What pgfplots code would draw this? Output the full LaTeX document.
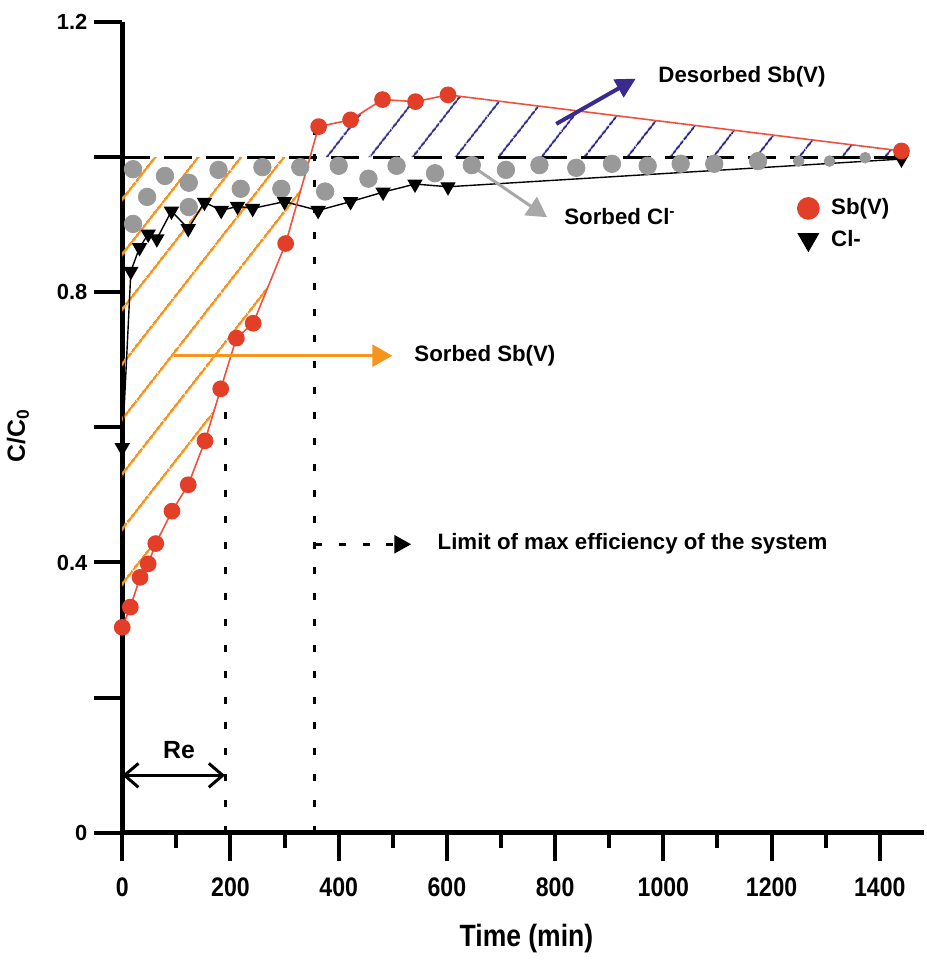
\documentclass[border=0pt]{standalone}
\usepackage{fontspec}
\setmainfont{Liberation Sans}
\newfontfamily\narrowsans[FakeStretch=0.86]{Liberation Sans}
\usepackage{pgfplots}
\usepackage{pgfplotstable}
\pgfplotsset{compat=1.18}
\usepgfplotslibrary{fillbetween}
\usetikzlibrary{patterns.meta,arrows.meta}

\definecolor{sbred}{HTML}{E23E28}
\definecolor{sbline}{HTML}{F0503C}
\definecolor{hatchorange}{HTML}{F7941E}
\definecolor{hatchblue}{HTML}{2E288C}
\definecolor{despurple}{HTML}{3B2A8E}
\definecolor{dotgray}{HTML}{999999}
\definecolor{arrowgray}{HTML}{A8A8A8}

% Sb(V) breakthrough
\pgfplotstableread{
x y
0 0.304
15 0.334
33 0.378
48 0.398
62 0.428
92 0.476
122 0.515
153 0.580
182 0.657
211 0.732
242 0.754
302 0.872
363 1.045
422 1.055
481 1.085
542 1.082
602 1.092
1440 1.009
}\sbdata

% Cl- breakthrough
\pgfplotstableread{
x y
0 0.570
16 0.831
32 0.866
48 0.886
64 0.879
91 0.920
122 0.894
152 0.933
183 0.921
213 0.927
241 0.924
300 0.934
362 0.921
422 0.934
482 0.948
541 0.960
602 0.956
1440 0.997
}\cldata

% grey dots marking the sorbed Cl- area
\pgfplotstableread{
x y
20 0.982
46 0.941
20 0.901
79 0.972
123 0.962
123 0.926
178 0.981
219 0.953
259 0.985
294 0.953
329 0.985
375 0.949
400 0.987
455 0.968
507 0.987
578 0.976
646 0.988
709 0.981
771 0.988
839 0.984
905 0.990
971 0.987
1032 0.990
1094 0.990
1175 0.994
}\dotsbig
\pgfplotstableread{
x y
1250 0.994
1307 0.994
1373 0.999
}\dotssmall

\newcommand\annot{\bfseries\fontsize{11.2}{13}\selectfont}

\begin{document}
\begin{tikzpicture}
\begin{axis}[
  set layers, clip=false,
  scale only axis, width=403.5pt, height=408pt,
  xmin=0, xmax=1482, ymin=0, ymax=1.2,
  axis x line=bottom, axis y line=left,
  axis line style={-, line width=2.7pt},
  xtick={0,200,...,1400}, minor xtick={100,300,...,1300},
  ytick={0,0.2,0.4,0.6,0.8,1,1.2}, yticklabels={0,,0.4,,0.8,,1.2},
  tick align=outside, major tick length=14pt, minor tick length=7.5pt,
  tick style={black, line width=2pt},
  /pgf/number format/1000 sep={},
  /pgf/number format/assume math mode=true,
  xticklabel style={font=\narrowsans\bfseries\fontsize{13.5}{13.5}\selectfont, yshift=-5pt},
  yticklabel style={font=\bfseries\fontsize{11}{11}\selectfont},
  xlabel={Time (min)}, ylabel={C/C\textsubscript{0}},
  every axis x label/.style={at={(rel axis cs:0.504,-0.131)}, anchor=center,
    font=\narrowsans\bfseries\fontsize{15.5}{15.5}\selectfont},
  every axis y label/.style={at={(rel axis cs:-0.130,0.49)}, rotate=90, anchor=center,
    font=\bfseries\fontsize{12.5}{13}\selectfont},
  legend style={draw=none, fill=none, at={(axis cs:1236,0.901)}, anchor=west,
    font=\annot, row sep=2pt},
  legend cell align=left,
]
% reference line C/C0 = 1
\addplot[name path=one, black, line width=1.5pt, dash pattern=on 14pt off 7pt, forget plot]
  coordinates {(0,1) (1465,1)};

% limits of the system
\addplot[black, line width=1.5pt, dash pattern=on 3.5pt off 9.5pt, forget plot]
  coordinates {(190.4,0) (190.4,0.681)};
\addplot[black, line width=1.5pt, dash pattern=on 3.5pt off 9.5pt, forget plot]
  coordinates {(356,0) (356,1.041)};

\addplot[only marks, mark=*, mark size=4.4pt, color=dotgray, forget plot] table {\dotsbig};
\addplot[only marks, mark=*, mark size=2.7pt, color=dotgray, forget plot] table {\dotssmall};

\addplot[name path=cl, black, line width=0.7pt, mark=triangle*, mark size=3.8pt,
  mark options={rotate=180, solid}, forget plot] table {\cldata};
\addplot[name path=sb, sbline, line width=0.8pt, mark=*, mark size=3.8pt,
  mark options={fill=sbred, draw=sbred}, forget plot] table {\sbdata};

% hatched areas
\addplot[pattern={Lines[angle=52,distance=17pt,line width=1.3pt]}, pattern color=hatchorange, forget plot]
  fill between[of=sb and one, soft clip={domain=0:347}];
\addplot[pattern={Lines[angle=52,distance=17pt,line width=1pt]}, pattern color=hatchblue, forget plot]
  fill between[of=sb and one, soft clip={domain=347:1440}];

\addlegendimage{only marks, mark=*, mark size=5.5pt, color=sbred}
\addlegendentry{\hspace{4pt}Sb(V)}
\addlegendimage{only marks, mark=triangle*, mark size=6pt, mark options={rotate=180}, color=black}
\addlegendentry{\hspace{4pt}Cl-}

% annotations
\draw[hatchorange, line width=1.5pt, -{Triangle[length=10pt,width=11pt]}]
  (axis cs:95,0.706) -- (axis cs:499,0.706);
\node[anchor=west, font=\annot] at (axis cs:527,0.706) {Sorbed Sb(V)};
\draw[despurple, line width=2pt, -{Triangle[length=10pt,width=10pt]}]
  (axis cs:802,1.049) -- (axis cs:949,1.116);
\node[anchor=west, font=\annot] at (axis cs:978,1.119) {Desorbed Sb(V)};
\draw[arrowgray, line width=1.5pt, -{Triangle[length=10pt,width=11pt]}]
  (axis cs:640,0.990) -- (axis cs:785,0.911);
\node[anchor=west, font=\annot] at (axis cs:804,0.912) {Sorbed Cl\textsuperscript{-}};
\draw[black, line width=1.5pt, dash pattern=on 3.5pt off 8.5pt, -{Triangle[length=8.5pt,width=9pt]}]
  (axis cs:356,0.427) -- (axis cs:534,0.427);
\node[anchor=west, font=\annot] at (axis cs:570,0.427) {Limit of max efficiency of the system};
\draw[black, line width=1.5pt, {Straight Barb[length=7pt,width=12pt]}-{Straight Barb[length=7pt,width=12pt]}]
  (axis cs:0,0.085) -- (axis cs:190,0.085);
\node[font=\bfseries\fontsize{12.5}{12.5}\selectfont] at (axis cs:105,0.122) {Re};

\path (rel axis cs:-0.1524,-0.1495) rectangle (rel axis cs:1,1.027);
\end{axis}
\end{tikzpicture}
\end{document}
